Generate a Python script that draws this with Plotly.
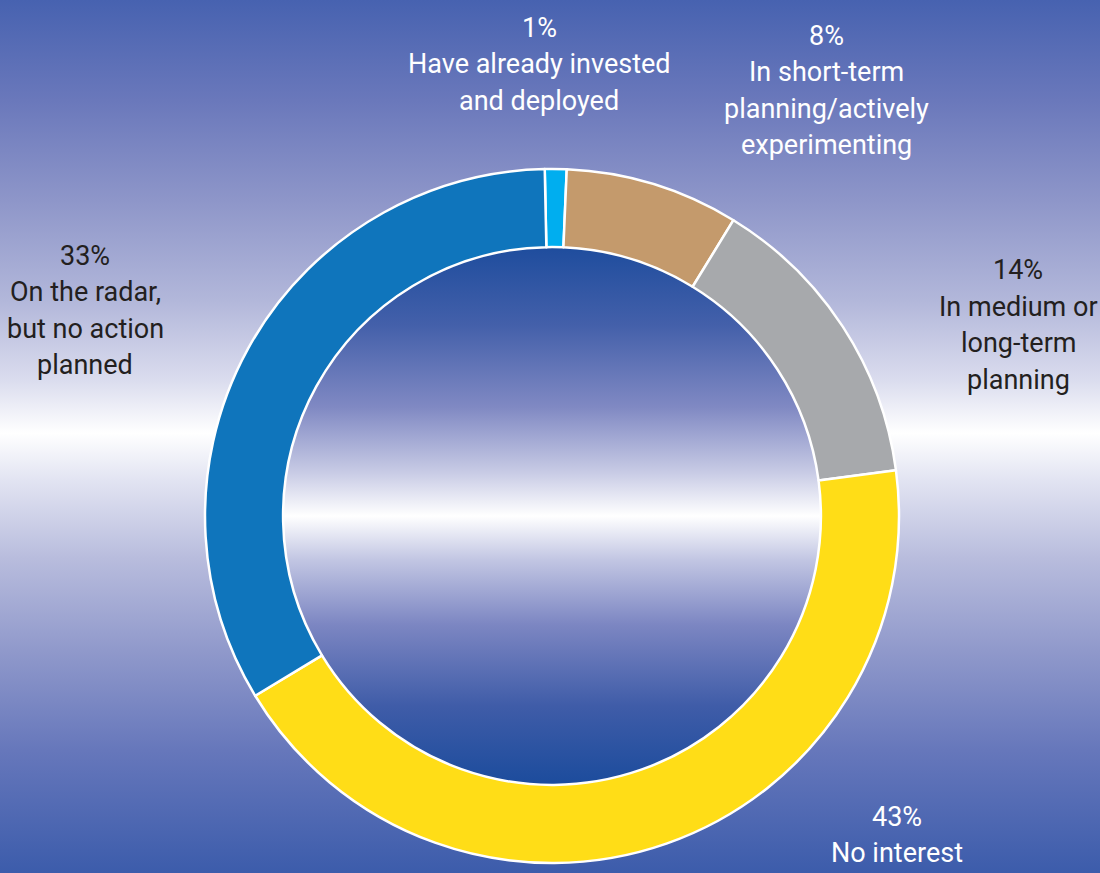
import numpy as np
import plotly.graph_objects as go

# ---- data ----
categories = [
    "Have already invested<br>and deployed",
    "In short-term<br>planning/actively<br>experimenting",
    "In medium or<br>long-term<br>planning",
    "No interest",
    "On the radar,<br>but no action<br>planned",
]
values = [1, 8, 14, 43, 33]
slice_colors = ["#00aeef", "#c49a6c", "#a7a9ac", "#ffdd17", "#0f75bc"]

# label placement (block centre in px) and text colours
label_pos = [(539, 64), (826, 90.5), (1018, 325), (897, 835), (85, 310.5)]
label_colors = ["#ffffff", "#ffffff", "#231f20", "#ffffff", "#231f20"]
line_step = 36.5

W, H = 1100, 873
cx, cy, R = 552, 516, 347
hole = 0.775

fig = go.Figure()

# background gradient rectangle
bg_scale = [
    [0.0, "#3c5cab"], [0.14, "#6677bb"], [0.255, "#9099cb"], [0.36, "#b8bcdd"],
    [0.45, "#e2e4f2"], [0.504, "#ffffff"], [0.565, "#dadcee"], [0.656, "#b2b7da"],
    [0.77, "#8e96c9"], [0.885, "#6a78bb"], [1.0, "#4762b0"],
]
fig.add_trace(go.Scatter(
    x=[0, W, W, 0, 0], y=[0, 0, H, H, 0], mode="lines", fill="toself",
    line=dict(width=0), hoverinfo="skip", showlegend=False,
    fillgradient=dict(type="vertical", colorscale=bg_scale, start=0, stop=H),
))

# inner circle gradient
r_in = R * hole + 3
t = np.linspace(0, 2 * np.pi, 361)
ccy = H - cy
circ_scale = [
    [0.0, "#1a4b9c"], [0.15, "#3f5ca8"], [0.3, "#7c86c2"], [0.42, "#c2c6e3"],
    [0.5, "#ffffff"], [0.58, "#c8cbe5"], [0.7, "#8089c3"], [0.85, "#4460aa"],
    [1.0, "#1d4c9d"],
]
fig.add_trace(go.Scatter(
    x=cx + r_in * np.cos(t), y=ccy + r_in * np.sin(t), mode="lines", fill="toself",
    line=dict(width=0), hoverinfo="skip", showlegend=False,
    fillgradient=dict(type="vertical", colorscale=circ_scale,
                      start=ccy - r_in, stop=ccy + r_in),
))

# donut
fig.add_trace(go.Pie(
    values=values, labels=[c.replace("<br>", " ") for c in categories],
    sort=False, direction="clockwise", rotation=-1.2, hole=hole,
    marker=dict(colors=slice_colors, line=dict(color="#ffffff", width=2.5)),
    textinfo="none", showlegend=False,
    domain=dict(x=[(cx - R) / W, (cx + R) / W],
                y=[(H - cy - R) / H, (H - cy + R) / H]),
))

font_family = "Roboto, Liberation Sans Narrow, Arial Narrow, sans-serif"
for cat, v, (px, py), col in zip(categories, values, label_pos, label_colors):
    lines = [f"{v}%"] + cat.split("<br>")
    n = len(lines)
    for i, ln in enumerate(lines):
        ly = py + (i - (n - 1) / 2) * line_step
        fig.add_annotation(
            x=px / W, y=1 - ly / H, xref="paper", yref="paper",
            text=ln, showarrow=False, align="center",
            xanchor="center", yanchor="middle",
            font=dict(family=font_family, size=27, color=col),
        )

fig.update_layout(
    width=W, height=H, margin=dict(l=0, r=0, t=0, b=0),
    paper_bgcolor="#ffffff", plot_bgcolor="rgba(0,0,0,0)",
    xaxis=dict(range=[0, W], visible=False, fixedrange=True, domain=[0, 1]),
    yaxis=dict(range=[0, H], visible=False, fixedrange=True, domain=[0, 1]),
)

fig.write_html("out.html")
